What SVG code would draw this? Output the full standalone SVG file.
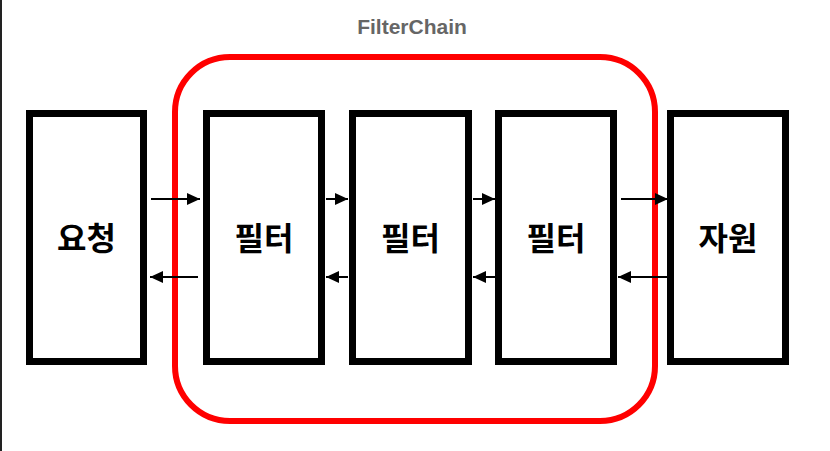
<svg xmlns="http://www.w3.org/2000/svg" width="830" height="451" viewBox="0 0 830 451">
  <style>
    .box { fill: #fff; stroke: #000; stroke-width: 7; }
    .lbl { font-family: "Noto Sans CJK KR", "Noto Sans", sans-serif; font-weight: bold; font-size: 32px; fill: #000; text-anchor: middle; }
    .conn { stroke: #000; stroke-width: 2; fill: none; marker-end: url(#ah); }
    .title { font-family: "Liberation Sans", Arial, sans-serif; font-weight: bold; font-size: 21px; fill: #666; text-anchor: middle; }
  </style>
  <defs>
    <marker id="ah" markerWidth="13" markerHeight="12" refX="13" refY="6" orient="auto" markerUnits="userSpaceOnUse">
      <path d="M0,0 L13,6 L0,12 Z" fill="#000"/>
    </marker>
  </defs>
  <rect x="0" y="0" width="830" height="451" fill="#fff"/>
  <rect x="0" y="0" width="2" height="451" fill="#222"/>

  <g id="request">
    <rect class="box" x="29.5" y="113.5" width="114" height="248"/>
    <text class="lbl" x="86.5" y="250">요청</text>
  </g>
  <g id="filter1">
    <rect class="box" x="206.5" y="113.5" width="115" height="248"/>
    <text class="lbl" x="264" y="250">필터</text>
  </g>
  <g id="filter2">
    <rect class="box" x="352.5" y="113.5" width="116" height="248"/>
    <text class="lbl" x="410.5" y="250">필터</text>
  </g>
  <g id="filter3">
    <rect class="box" x="498.5" y="113.5" width="115" height="248"/>
    <text class="lbl" x="556" y="250">필터</text>
  </g>
  <g id="resource">
    <rect class="box" x="670.5" y="113.5" width="115" height="248"/>
    <text class="lbl" x="728" y="250">자원</text>
  </g>

  <g id="filterchain">
    <rect x="175" y="57" width="480" height="364" rx="55" ry="55" fill="none" stroke="#ff0000" stroke-width="6"/>
    <text class="title" x="412" y="34">FilterChain</text>
  </g>

  <g id="connectors">
    <line class="conn" x1="151" y1="199" x2="200" y2="199"/>
    <line class="conn" x1="198" y1="277" x2="150" y2="277"/>
    <line class="conn" x1="326" y1="199" x2="348" y2="199"/>
    <line class="conn" x1="348" y1="277" x2="326" y2="277"/>
    <line class="conn" x1="473" y1="199" x2="495" y2="199"/>
    <line class="conn" x1="495" y1="277" x2="473" y2="277"/>
    <line class="conn" x1="621" y1="199" x2="668" y2="199"/>
    <line class="conn" x1="668" y1="277" x2="618" y2="277"/>
  </g>
</svg>
